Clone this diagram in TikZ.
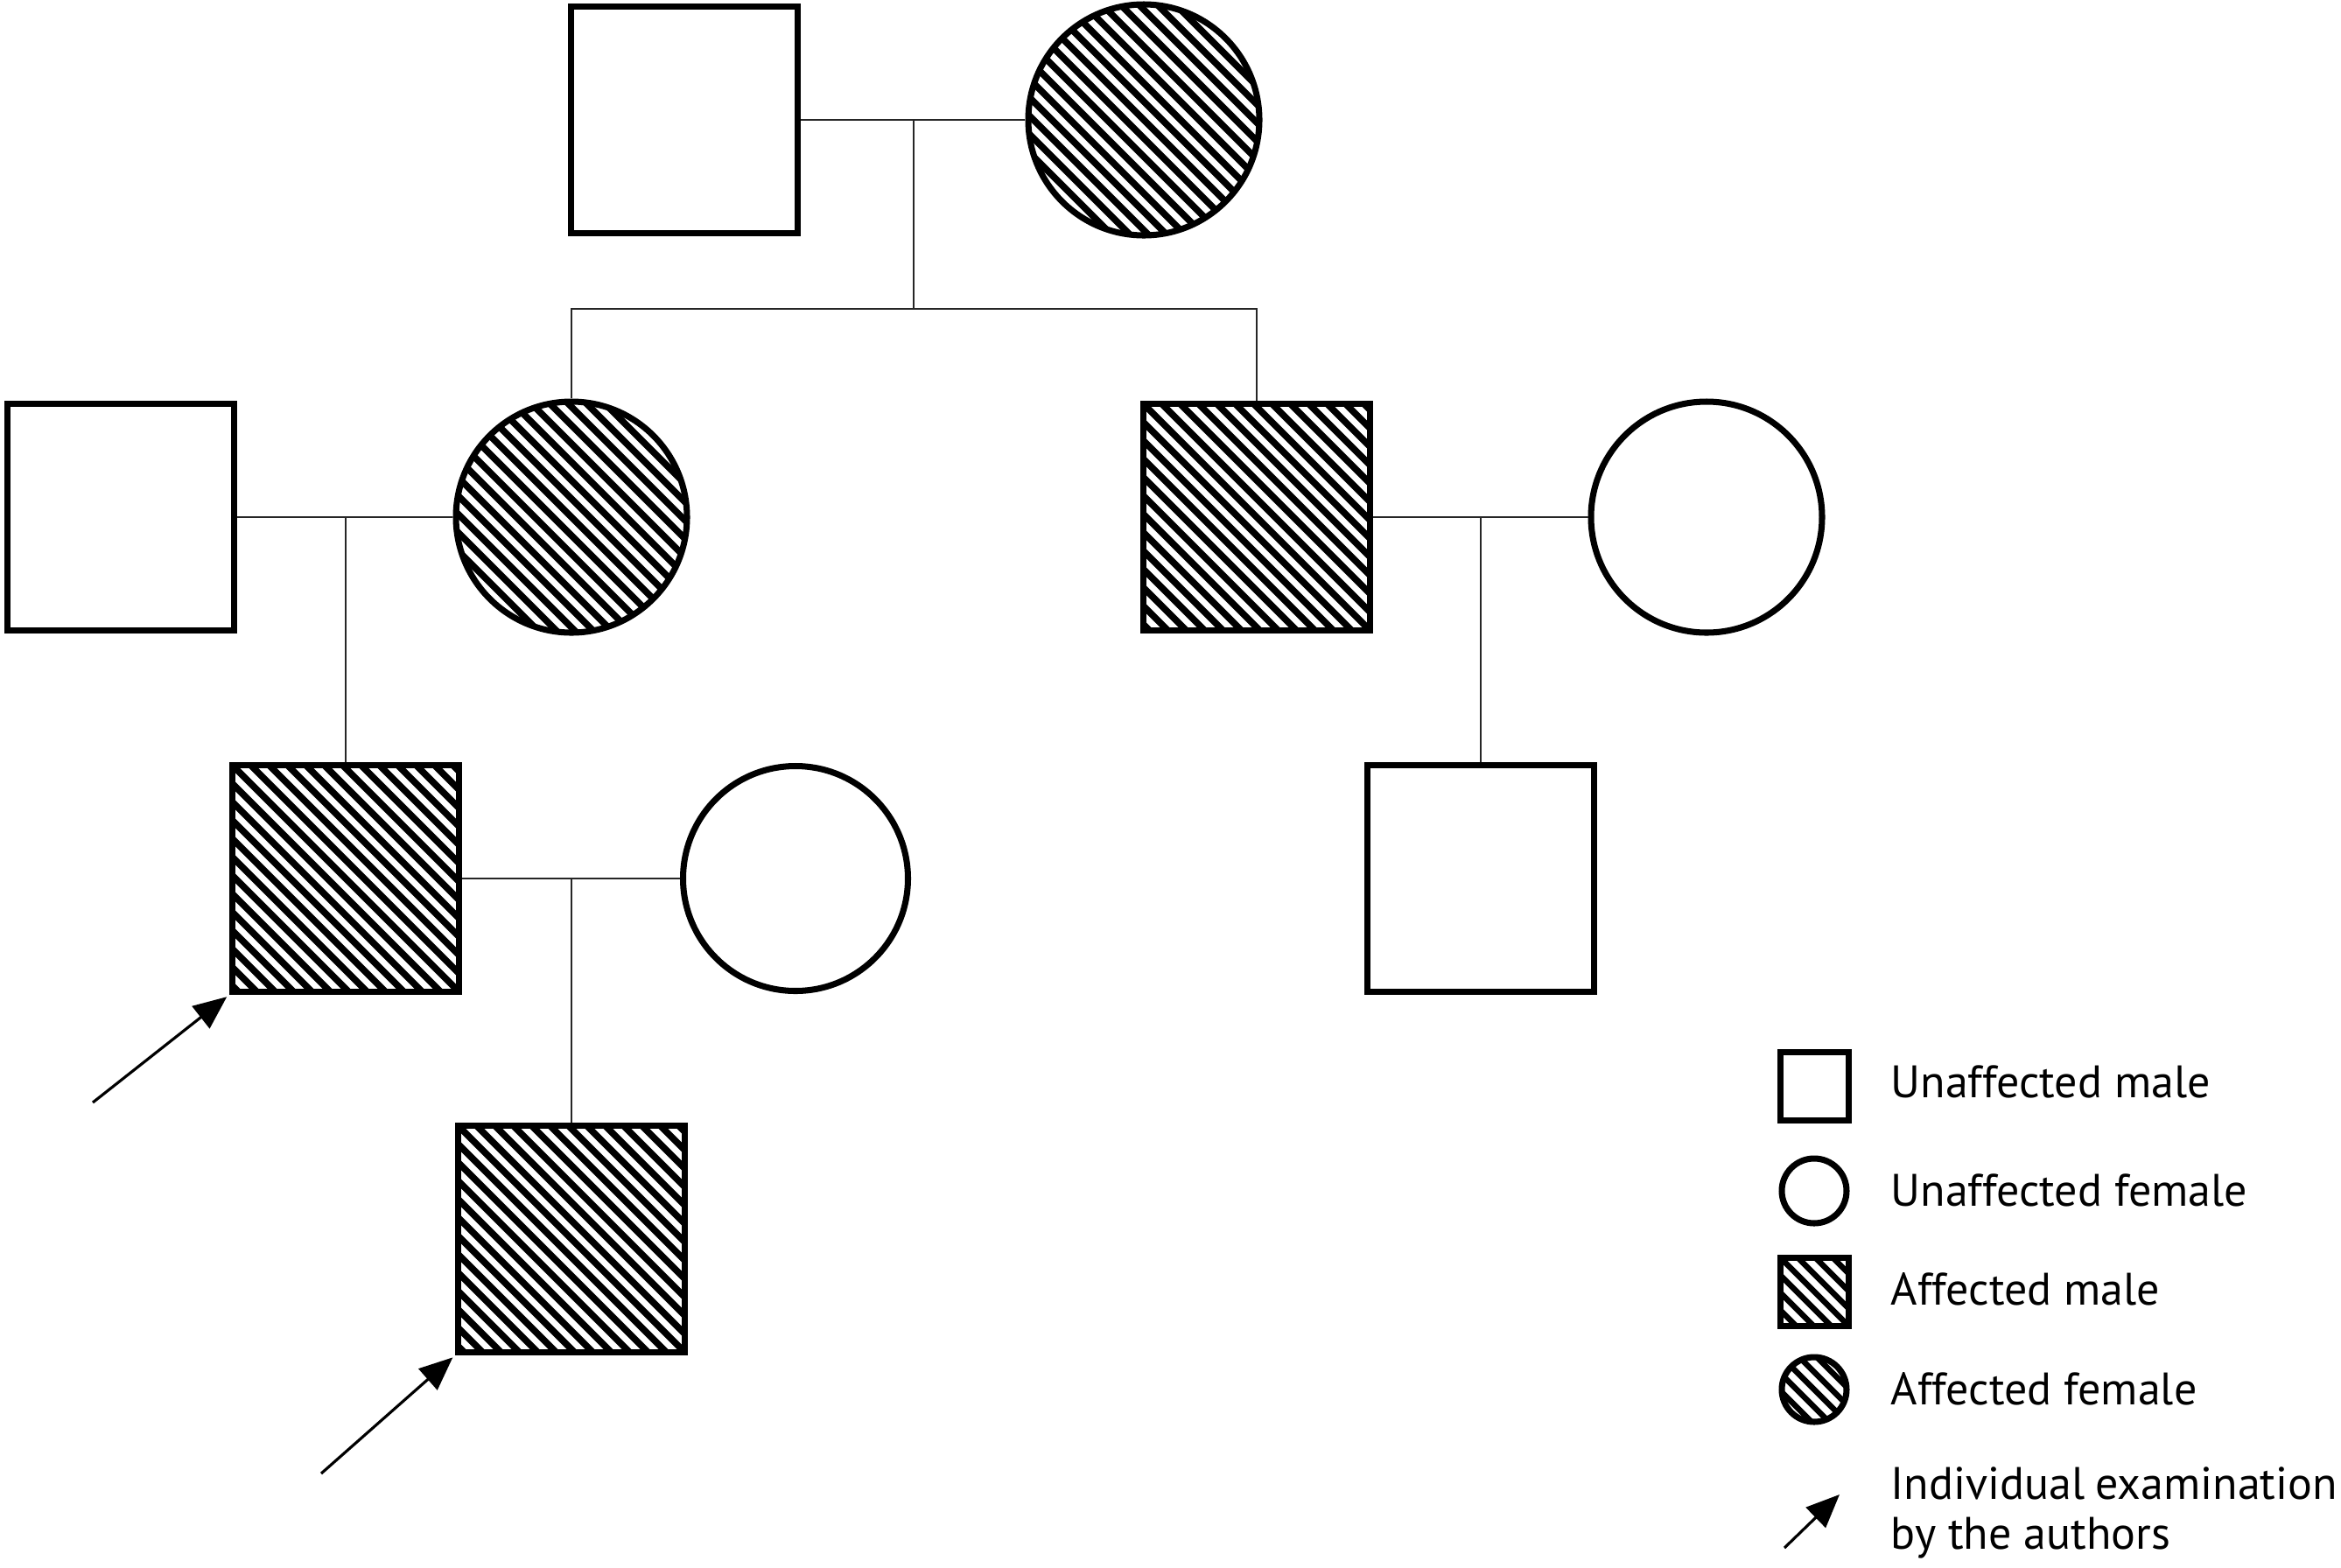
\documentclass[tikz,border=0pt]{standalone}
\usepackage{fontspec}
\setmainfont{PT Sans}
\usetikzlibrary{arrows.meta}
\tikzset{
  person/.style={draw, line width=2pt, inner sep=0pt, fill=white},
  male/.style={person, rectangle, minimum size=2.59cm},
  female/.style={person, circle, minimum size=2.64cm},
  hatch/.style 2 args={path picture={
    \begin{scope}[shift={(path picture bounding box.center)}]
      \foreach \k in {-26,...,26}{\draw[line width=#2] ({\k*#1-3},3) -- ({\k*#1+3},-3);}
    \end{scope}}},
  bighatch/.style={hatch={0.21}{0.075cm}},
  smallhatch/.style={hatch={0.2}{0.065cm}},
  link/.style={line width=0.7pt, black!85},
  probandarrow/.style={line width=0.9pt, -{Triangle[length=0.38cm,width=0.32cm]}},
  legtext/.style={anchor=west, inner sep=0pt, font=\fontsize{14.8}{16}\selectfont}
}
\begin{document}
\begin{tikzpicture}
\useasboundingbox (0,0) rectangle (26.75,-17.92);
\coordinate (m1) at (10.44,-1.37);
\coordinate (s1) at (10.44,-3.53);
\coordinate (m2) at (3.95,-5.91);
\coordinate (m3) at (16.92,-5.91);
\coordinate (m4) at (6.53,-10.04);
% generation I
\node[male] (I1) at (7.82,-1.37) {};
\node[female,bighatch] (I2) at (13.07,-1.37) {};
% generation II
\node[male] (II1) at (1.38,-5.91) {};
\node[female,bighatch] (II2) at (6.53,-5.91) {};
\node[male,bighatch] (II3) at (14.36,-5.91) {};
\node[female] (II4) at (19.50,-5.91) {};
% generation III
\node[male,bighatch] (III1) at (3.95,-10.04) {};
\node[female,minimum size=2.57cm] (III2) at (9.09,-10.04) {};
\node[male] (III3) at (16.92,-10.04) {};
% generation IV
\node[male,bighatch] (IV1) at (6.53,-14.16) {};
% connectors
\draw[link] (I1.east) -- (I2.west);
\draw[link] (m1) -- (s1);
\draw[link] (II2.north) |- (s1) -| (II3.north);
\draw[link] (II1.east) -- (II2.west);
\draw[link] (m2) -- (III1.north);
\draw[link] (II3.east) -- (II4.west);
\draw[link] (m3) -- (III3.north);
\draw[link] (III1.east) -- (III2.west);
\draw[link] (m4) -- (IV1.north);
% proband arrows
\coordinate (a1) at (1.06,-12.60);
\coordinate (a2) at (3.67,-16.84);
\draw[probandarrow, shorten >=1pt] (a1) -- (III1.south west);
\draw[probandarrow, shorten >=1pt] (a2) -- (IV1.south west);
% legend
\node[male, minimum size=0.78cm] (L1) at (20.73,-12.41) {};
\node[female, minimum size=0.74cm] (L2) at (20.73,-13.61) {};
\node[male, smallhatch, minimum size=0.78cm] (L3) at (20.73,-14.76) {};
\node[female, smallhatch, minimum size=0.74cm] (L4) at (20.73,-15.88) {};
\coordinate (L5s) at (20.39,-17.69);
\coordinate (L5e) at (21.02,-17.08);
\draw[probandarrow] (L5s) -- (L5e);
\node[legtext] (T1) at (21.60,-12.36) {Unaffected male};
\node[legtext] (T2) at (21.60,-13.60) {Unaffected female};
\node[legtext] (T3) at (21.60,-14.73) {Affected male};
\node[legtext] (T4) at (21.60,-15.87) {Affected female};
\node[legtext, align=left] (T5) at (21.60,-17.29) {\makebox[5.1cm][s]{Individual examination}\\by the authors};
\end{tikzpicture}
\end{document}
